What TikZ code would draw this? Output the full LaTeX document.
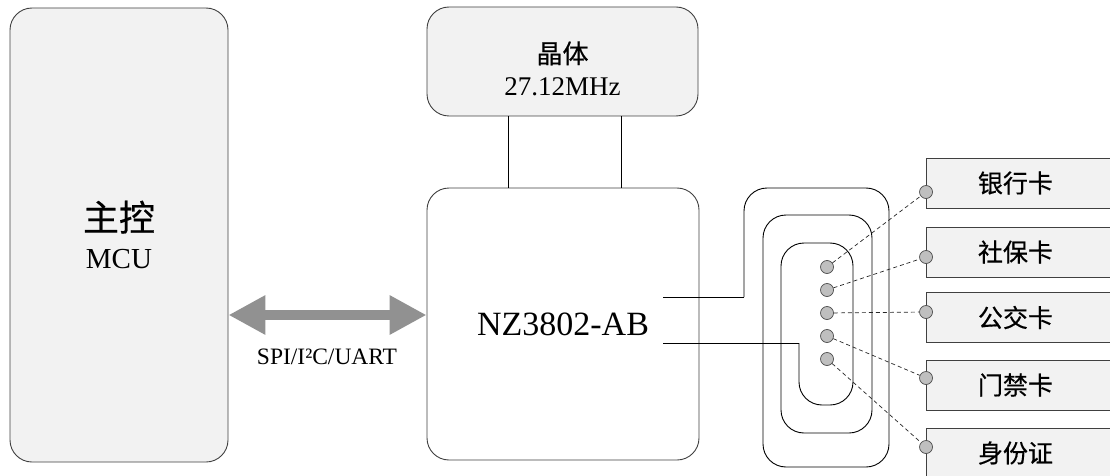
\documentclass[tikz,border=0pt]{standalone}
\usepackage{fontspec}
\setmainfont{Liberation Serif}
\newfontfamily\cjk[FakeBold=0.5]{Noto Sans CJK SC}
\usetikzlibrary{arrows.meta}

\begin{document}
\begin{tikzpicture}[x=1pt, y=-1pt,
  block/.style={draw=black!75, line width=0.9pt, rounded corners=22pt, align=center},
  card/.style={draw=black!75, line width=0.9pt, fill=black!5, minimum width=200pt, minimum height=50pt, anchor=west,
    label={[font=\cjk\fontsize{25}{30}\selectfont, xshift=-11pt]center:#1}},
  pin/.style={circle, draw=black!70, line width=0.7pt, fill=black!25, minimum size=13pt, inner sep=0pt},
  link/.style={draw=black!85, line width=0.7pt, dash pattern=on 4pt off 3pt},
  coil/.style={line width=0.9pt},
  bus/.style={black!43, line width=10pt, {Triangle[length=37pt,width=37pt]}-{Triangle[length=37pt,width=37pt]}}
]
\useasboundingbox (0,0) rectangle (1110,476);

% blocks
\node[block, fill=black!5, minimum width=218pt, minimum height=454pt, font=\fontsize{29}{38}\selectfont] (mcu) at (119,235)
  {{\cjk\fontsize{36}{38}\selectfont 主控}\\MCU};
\node[block, fill=black!5, minimum width=271pt, minimum height=109pt,
  label={[align=center, font=\fontsize{27}{32}\selectfont, yshift=-7pt]center:{{\cjk\fontsize{26}{32}\selectfont 晶体}\\27.12MHz}}] (xtal) at (562.5,61.5) {};
\node[block, fill=white, minimum width=272pt, minimum height=272pt, font=\fontsize{34}{40}\selectfont] (nz) at (563,324) {NZ3802-AB};

% crystal legs
\draw[line width=0.9pt] ([xshift=82pt]xtal.south west) -- ([xshift=82pt]nz.north west);
\draw[line width=0.9pt] ([xshift=195pt]xtal.south west) -- ([xshift=195pt]nz.north west);

% host bus
\draw[bus] ([yshift=9pt]nz.west -| mcu.east) -- ([yshift=9pt]nz.west);
\node[font=\fontsize{23.5}{28}\selectfont] (buslabel) at (327,357) {SPI/I²C/UART};

% antenna coil
\coordinate (ant1) at (663,297);
\coordinate (ant2) at (663,343);
\draw[coil] (ant1) -- (744,297);
\draw[coil, rounded corners=23pt] (744,297) -- (744,188) -- (889,188) -- (889,467) -- (763,467)
  -- (763,215) -- (872,215) -- (872,433) -- (781,433) -- (781,243) -- (853,243) -- (853,405)
  -- (799,405) -- (799,343);
\draw[coil] (799,343) -- (ant2);

% cards
\node[card=银行卡] (bank) at (926,183) {};
\node[card=社保卡] (social) at (926,252) {};
\node[card=公交卡] (bus) at (926,317.5) {};
\node[card=门禁卡] (door) at (926,385) {};
\node[card=身份证] (id) at (926,453) {};

\foreach \i/\y in {1/267,2/290,3/313,4/336,5/359}
  \node[pin] (dot\i) at (827,\y) {};
\foreach \i/\y in {1/192,2/257,3/312,4/378,5/447}
  \node[pin] (pin\i) at (926,\y) {};
\foreach \i in {1,...,5}
  \draw[link] (dot\i) -- (pin\i);
\end{tikzpicture}
\end{document}
